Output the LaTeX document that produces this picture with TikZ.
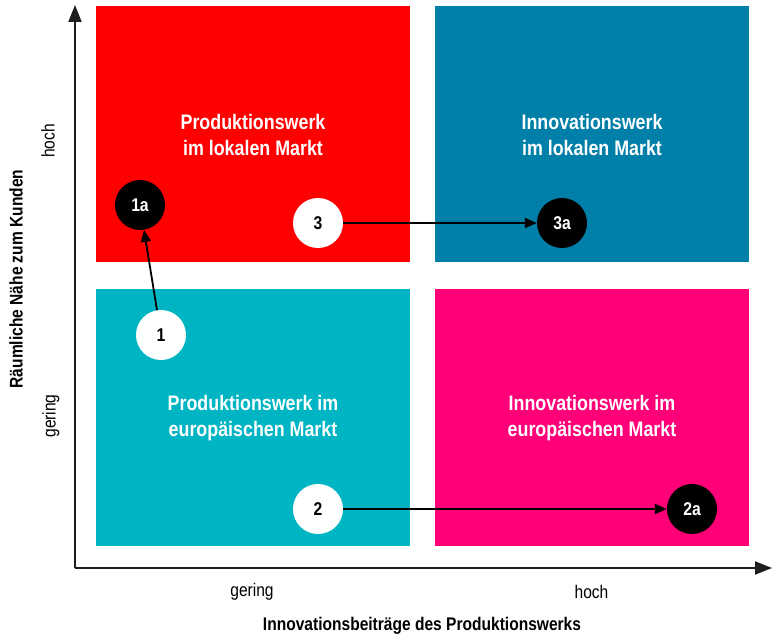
\documentclass[tikz,border=0pt]{standalone}
\usepackage{fontspec}
\setmainfont{Liberation Sans}[FakeStretch=0.85]
\usetikzlibrary{arrows.meta}
\definecolor{cRed}{RGB}{255,0,0}
\definecolor{cBlue}{RGB}{0,127,168}
\definecolor{cCyan}{RGB}{0,181,195}
\definecolor{cMag}{RGB}{255,0,120}
\definecolor{cAxis}{RGB}{30,30,30}
\begin{document}
\begin{tikzpicture}[x=1pt,y=-1pt,
  qtitle/.style={text=white,align=center,font=\bfseries\fontsize{21}{26}\selectfont},
  wcirc/.style={circle,fill=white,minimum size=50pt,inner sep=0,font=\bfseries\fontsize{18.5}{18.5}\selectfont},
  bcirc/.style={circle,fill=black,text=white,minimum size=50pt,inner sep=0,font=\bfseries\fontsize{18.5}{18.5}\selectfont},
  conn/.style={line width=1.8pt,-{Triangle[length=12pt,width=10pt]}},
  axis/.style={draw=cAxis,line width=2pt,-{Triangle[length=17pt,width=13pt]}},
  axlab/.style={font=\fontsize{18.3}{20}\selectfont},
  axtitle/.style={font=\bfseries\fontsize{18.3}{20}\selectfont}]
\useasboundingbox (0,0) rectangle (772,636);
% quadrants
\fill[cRed]  (96,6)   rectangle (410,262);
\fill[cBlue] (435,6)  rectangle (749,262);
\fill[cCyan] (96,289) rectangle (410,546);
\fill[cMag]  (435,289) rectangle (749,546);
% titles
\node[qtitle] (tRed)  at (253,134.5) {Produktionswerk\\im lokalen Markt};
\node[qtitle] (tBlue) at (592,134.5) {Innovationswerk\\im lokalen Markt};
\node[qtitle] (tCyan) at (253,418) {Produktionswerk im\\europäischen Markt};
\node[qtitle] (tMag)  at (592,418) {Innovationswerk im\\europäischen Markt};
% axes
\coordinate (O) at (75,568);
\coordinate (Ytop) at (75,5);
\coordinate (Xend) at (772,568);
\draw[axis] (O) -- (Ytop);
\draw[axis] (O) -- (Xend);
% axis labels
\node[axlab,rotate=90] (yhoch) at (48,141) {hoch};
\node[axlab,rotate=90] (ygering) at (51,416) {gering};
\node[axtitle,rotate=90] (ytitle) at (16,279) {Räumliche Nähe zum Kunden};
\node[axlab] (xgering) at (252,592) {gering};
\node[axlab] (xhoch) at (591.5,592) {hoch};
\node[axtitle] (xtitle) at (422,626) {Innovationsbeiträge des Produktionswerks};
% circles
\node[bcirc] (c1a) at (140,205) {1a};
\node[wcirc] (c1)  at (161,335) {1};
\node[wcirc] (c3)  at (318,223) {3};
\node[bcirc] (c3a) at (562,223) {3a};
\node[wcirc] (c2)  at (318,509) {2};
\node[bcirc] (c2a) at (692,509) {2a};
% connectors
\draw[conn] (c1) -- (c1a);
\draw[conn] (c3) -- (c3a);
\draw[conn] (c2) -- (c2a);
\end{tikzpicture}
\end{document}
